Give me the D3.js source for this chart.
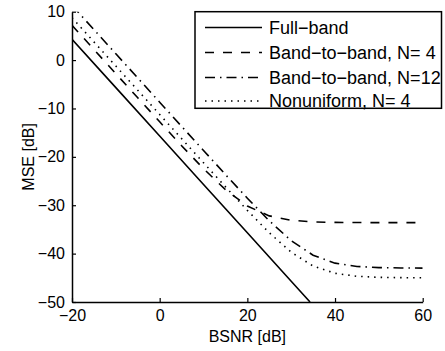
<!DOCTYPE html>
<html><head><meta charset="utf-8">
<script src="https://cdn.jsdelivr.net/npm/d3@7"></script>
<style>
html,body{margin:0;padding:0;background:#fff;}
svg{display:block;font-family:"Liberation Sans",Arial,Helvetica,sans-serif;}
</style></head>
<body>
<svg id="chart" width="445" height="351"></svg>
<script>
// ---- data ----
const bsnr = [-20, -15, -10, -5, 0, 5, 10, 15, 20, 25, 30, 35, 40, 45, 50, 55, 60];
const fullBandX = [-20, -10, 0, 10, 20, 30, 34.3];
const fullBand  = [4.3, -5.7, -15.7, -25.7, -35.7, -45.7, -50];
const band4  = [7.2, 2.2, -2.8, -7.8, -12.76, -17.69, -22.45, -26.78, -30.17, -32.2, -33.11, -33.44, -33.55, -33.58, -33.6, -33.6, -33.6];
const band12 = [11.3, 6.3, 1.3, -3.7, -8.7, -13.7, -18.68, -23.65, -28.54, -33.22, -37.33, -40.33, -41.97, -42.65, -42.89, -42.96, -42.99];
const nonuni = [8.76, 3.76, -1.24, -6.24, -11.24, -16.23, -21.22, -26.18, -31.06, -35.70, -39.71, -42.57, -44.07, -44.69, -44.90, -44.97, -44.99];
const xTicks = [-20, 0, 20, 40, 60];
const yTicks = [-50, -40, -30, -20, -10, 0, 10];
const legendLabels = ["Full\u2212band", "Band\u2212to\u2212band, N= 4", "Band\u2212to\u2212band, N=12", "Nonuniform, N= 4"];
const dashes = [null, "9,9", "10,5,1.5,5", "1.5,5"];

// ---- layout ----
const L = 72, R = 422.7, T = 11.7, B = 302;
const svg = d3.select("#chart");
const x = d3.scaleLinear().domain([-20, 60]).range([L, R]);
const y = d3.scaleLinear().domain([-50, 10]).range([B, T]);

svg.append("defs").append("clipPath").attr("id", "clip")
  .append("rect").attr("x", L).attr("y", T).attr("width", R - L).attr("height", B - T);

const series = [
  fullBandX.map((v, i) => [v, fullBand[i]]),
  bsnr.map((v, i) => [v, band4[i]]),
  bsnr.map((v, i) => [v, band12[i]]),
  bsnr.map((v, i) => [v, nonuni[i]])
];
const line = d3.line().x(d => x(d[0])).y(d => y(d[1]));
const g = svg.append("g").attr("clip-path", "url(#clip)");
series.forEach((s, i) => {
  g.append("path").datum(s).attr("d", line)
    .attr("fill", "none").attr("stroke", "#000").attr("stroke-width", 1.6)
    .attr("stroke-dasharray", dashes[i]);
});

// axes
const xa = svg.append("g").attr("transform", `translate(0,${B})`)
  .call(d3.axisBottom(x).tickValues(xTicks).tickSizeInner(-4).tickSizeOuter(0).tickPadding(8));
const ya = svg.append("g").attr("transform", `translate(${L},0)`)
  .call(d3.axisLeft(y).tickValues(yTicks).tickSizeInner(-4).tickSizeOuter(0).tickPadding(7));
[xa, ya].forEach(a => {
  a.selectAll("path.domain").attr("stroke", "#000").attr("stroke-width", 1.5);
  a.selectAll(".tick line").attr("stroke", "#000").attr("stroke-width", 1.2);
  a.selectAll("text").attr("fill", "#000").style("font-size", "16px");
});

svg.append("text").attr("x", (L + R) / 2).attr("y", 341.5).attr("text-anchor", "middle")
  .style("font-size", "16px").text("BSNR [dB]");
svg.append("text").attr("transform", `translate(34,${(T + B) / 2}) rotate(-90)`)
  .attr("text-anchor", "middle").style("font-size", "16px").text("MSE [dB]");

// legend
const lg = svg.append("g");
lg.append("rect").attr("x", 195).attr("y", 11.7).attr("width", 246.5).attr("height", 96.6)
  .attr("fill", "#fff").attr("stroke", "#000").attr("stroke-width", 1.5);
const rows = [27.5, 52.5, 77.5, 101];
legendLabels.forEach((lab, i) => {
  lg.append("line").attr("x1", 205).attr("x2", 262).attr("y1", rows[i]).attr("y2", rows[i])
    .attr("stroke", "#000").attr("stroke-width", 1.6).attr("stroke-dasharray", dashes[i]);
  lg.append("text").attr("x", 269).attr("y", rows[i]).attr("dy", "0.36em")
    .style("font-size", "18px").text(lab);
});
</script>
</body></html>
